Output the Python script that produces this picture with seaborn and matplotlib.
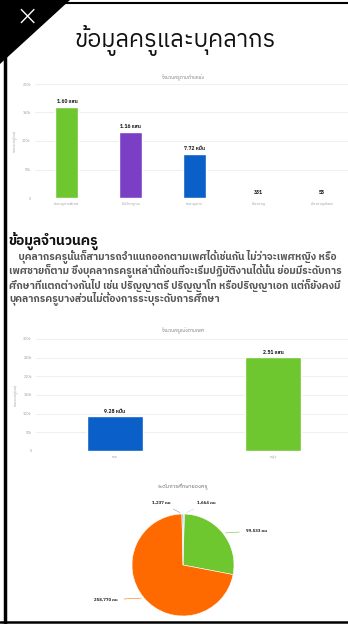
import numpy as np
import pandas as pd
import matplotlib
matplotlib.use('Agg')
import matplotlib.pyplot as plt
import seaborn as sns
from matplotlib import font_manager
from matplotlib.ft2font import FT2Font
from matplotlib.patches import Polygon

# data
pos_names = ['ชำนาญการพิเศษ', 'ไม่มีวิทยฐานะ', 'ชำนาญการ', 'เชี่ยวชาญ', 'เชี่ยวชาญพิเศษ']
pos_values = [160000, 116000, 77200, 331, 58]
pos_labels = ['1.60 แสน', '1.16 แสน', '7.72 หมื่น', '331', '58']
pos_colors = ['#6fc730', '#7b3fc6', '#0b5fc8', '#0b5fc8', '#0b5fc8']

sex_names = ['ชาย', 'หญิง']
sex_values = [92800, 251000]
sex_labels = ['9.28 หมื่น', '2.51 แสน']
sex_colors = ['#0b5fc8', '#6fc730']

edu_values = [1664, 99533, 258770, 1237]
edu_labels = ['1,664 คน', '99,533 คน', '258,770 คน', '1,237 คน']
edu_colors = ['#c9d6df', '#6fc730', '#ff6a00', '#5aa9e0']

para = ['    บุคลากรครูนั้นก็สามารถจำแนกออกตามเพศได้เช่นกัน ไม่ว่าจะเพศหญิง หรือ',
        'เพศชายก็ตาม ซึ่งบุคลากรครูเหล่านี้ก่อนที่จะเริ่มปฏิบัติงานได้นั้น ย่อมมีระดับการ',
        'ศึกษาที่แตกต่างกันไป เช่น ปริญญาตรี ปริญญาโท หรือปริญญาเอก แต่ก็ยังคงมี',
        'บุคลากรครูบางส่วนไม่ต้องการระบุระดับการศึกษา']

# find a font that has thai glyphs
thai = None
cands = sorted(font_manager.fontManager.ttflist,
               key=lambda f: (0 if 'Thai' in f.name else 1, f.name))
for f in cands:
    try:
        if 0x0E01 in FT2Font(f.fname).get_charmap():
            thai = f.name
            break
    except Exception:
        pass

sns.set_theme(style='white')
fams = ([thai] if thai else []) + ['DejaVu Sans']
plt.rcParams['font.family'] = fams

W, H = 348, 624
fig = plt.figure(figsize=(W / 100, H / 100), dpi=100)
fig.patch.set_facecolor('white')


def box(x0, y0, x1, y1):
    return [x0 / W, 1 - y1 / H, (x1 - x0) / W, (y1 - y0) / H]


def kfmt(v, p):
    return '0' if v == 0 else '%dk' % (v / 1000)


def bars(ax, names, vals, labs, cols, ymax, step):
    df = pd.DataFrame({'cat': names, 'val': vals})
    sns.barplot(data=df, x='cat', y='val', hue='cat', palette=cols, legend=False,
                width=0.36, ax=ax, saturation=1)
    ax.set_ylim(0, ymax)
    ax.set_yticks(np.arange(0, ymax + 1, step))
    ax.yaxis.set_major_formatter(plt.FuncFormatter(kfmt))
    ax.set_xlim(-0.5, len(names) - 0.5)
    ax.grid(axis='y', color='#ececec', lw=0.6)
    ax.set_axisbelow(True)
    for s in ax.spines.values():
        s.set_visible(False)
    ax.tick_params(axis='both', labelsize=2.6, colors='#999999', length=0, pad=3)
    ax.set_xlabel('')
    ax.set_ylabel('จำนวนครู(คน)', fontsize=2.8, color='#999999', labelpad=4)
    for c, l in zip(ax.containers, labs):
        ax.bar_label(c, labels=[l], fontsize=3.6, fontweight='bold', color='#222222', padding=2)


# chart 1
ax1 = fig.add_axes(box(35, 84, 354, 198))
bars(ax1, pos_names, pos_values, pos_labels, pos_colors, 200000, 50000)
fig.text(183 / W, 1 - 77 / H, 'จำนวนครูตามตำแหน่ง', ha='center', va='center',
         fontsize=3.4, color='#777777')

# chart 2
ax2 = fig.add_axes(box(36, 339, 352, 451))
bars(ax2, sex_names, sex_values, sex_labels, sex_colors, 300000, 50000)
fig.text(183 / W, 1 - 330 / H, 'จำนวนครูแบ่งตามเพศ', ha='center', va='center',
         fontsize=3.4, color='#777777')

# pie
ax3 = fig.add_axes(box(103, 485, 263, 645))
wedges, _ = ax3.pie(edu_values, colors=edu_colors, startangle=90, counterclock=False,
                    radius=1.02, wedgeprops=dict(edgecolor='white', linewidth=0.4))
ax3.set_xlim(-1.6, 1.6)
ax3.set_ylim(-1.6, 1.6)
ax3.set_aspect('equal')
ax3.axis('off')
lab_pos = [(0.28, 1.25), (1.25, 0.68), (-1.3, -0.7), (-0.25, 1.25)]
for w, lab, (tx, ty) in zip(wedges, edu_labels, lab_pos):
    a = np.deg2rad((w.theta1 + w.theta2) / 2)
    px, py = 1.02 * np.cos(a), 1.02 * np.sin(a)
    ha = 'left' if tx > px else 'right'
    ax3.annotate(lab, xy=(px, py), xytext=(tx, ty), ha=ha, va='center',
                 fontsize=3.2, fontweight='bold', color='#222222', annotation_clip=False,
                 arrowprops=dict(arrowstyle='-', color=w.get_facecolor(), lw=0.4))
fig.text(183 / W, 1 - 487 / H, 'ระดับการศึกษาของครู', ha='center', va='center',
         fontsize=4.0, color='#666666')

# header
fig.text(175 / W, 1 - 40 / H, 'ข้อมูลครูและบุคลากร', ha='center', va='center',
         fontsize=17, style='italic', color='#111111')
fig.text(8 / W, 1 - 241 / H, 'ข้อมูลจำนวนครู', ha='left', va='center',
         fontsize=10, fontweight='bold', color='#111111')
for i, line in enumerate(para):
    fig.text(9 / W, 1 - (257 + 14 * i) / H, line, ha='left', va='center',
             fontsize=7.3, fontweight='bold', color='#555555')

# frame
fig.patches.append(Polygon([(0, 1), (70 / W, 1), (0, 1 - 64 / H)], closed=True,
                           transform=fig.transFigure, facecolor='black', edgecolor='none'))
fig.text(27 / W, 1 - 17 / H, '×', ha='center', va='center', fontsize=20, color='white',
         family='DejaVu Sans', fontweight='light')
fig.add_artist(plt.Line2D([4.5 / W, 4.5 / W], [0, 1], transform=fig.transFigure, color='black', lw=2.5))
fig.add_artist(plt.Line2D([0, 1], [1 - 622 / H, 1 - 622 / H], transform=fig.transFigure, color='black', lw=1.8))
fig.add_artist(plt.Line2D([0, 1], [1 - 3 / H, 1 - 3 / H], transform=fig.transFigure, color='black', lw=1.5))

fig.savefig('out.png', dpi=100)
